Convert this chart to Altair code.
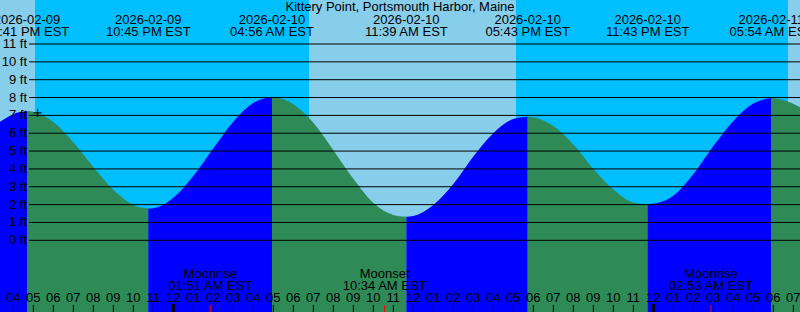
import altair as alt
import pandas as pd

STATION = "Kittery Point, Portsmouth Harbor, Maine"
START = "2026-02-09 15:20"
END = "2026-02-11 07:20"

# Tide height samples (local time, feet)
curve_time = [
    "2026-02-09 15:20", "2026-02-09 16:00", "2026-02-09 17:00", "2026-02-09 18:00",
    "2026-02-09 19:00", "2026-02-09 20:00", "2026-02-09 21:00", "2026-02-09 22:00",
    "2026-02-09 23:00", "2026-02-10 00:00", "2026-02-10 01:00", "2026-02-10 02:00",
    "2026-02-10 03:00", "2026-02-10 04:00", "2026-02-10 05:00", "2026-02-10 06:00",
    "2026-02-10 07:00", "2026-02-10 08:00", "2026-02-10 09:00", "2026-02-10 10:00",
    "2026-02-10 11:00", "2026-02-10 12:00", "2026-02-10 13:00", "2026-02-10 14:00",
    "2026-02-10 15:00", "2026-02-10 16:00", "2026-02-10 17:00", "2026-02-10 18:00",
    "2026-02-10 19:00", "2026-02-10 20:00", "2026-02-10 21:00", "2026-02-10 22:00",
    "2026-02-10 23:00", "2026-02-11 00:00", "2026-02-11 01:00", "2026-02-11 02:00",
    "2026-02-11 03:00", "2026-02-11 04:00", "2026-02-11 05:00", "2026-02-11 06:00",
    "2026-02-11 07:00", "2026-02-11 07:20",
]
curve_ft = [
    6.64, 7.07, 7.20, 6.63,
    5.50, 4.11, 2.83, 1.98,
    1.80, 2.39, 3.61, 5.16,
    6.65, 7.69, 8.03, 7.63,
    6.59, 5.05, 3.45, 2.10,
    1.42, 1.36, 1.98, 3.15,
    4.70, 6.00, 6.80, 6.90,
    6.40, 5.37, 4.00, 2.85,
    2.12, 2.05, 2.50, 3.70,
    5.28, 6.69, 7.66, 7.96,
    7.65, 7.45,
]

# High / low tide events
event_time = ["2026-02-09 16:41", "2026-02-09 22:45", "2026-02-10 04:56",
              "2026-02-10 11:39", "2026-02-10 17:43", "2026-02-10 23:43",
              "2026-02-11 05:54"]
event_ft = [7.24, 1.78, 8.04, 1.32, 6.93, 2.02, 7.97]
event_kind = ["high", "low", "high", "low", "high", "low", "high"]

# Sun events
sun_time = ["2026-02-09 17:05", "2026-02-10 06:47", "2026-02-10 17:08", "2026-02-11 06:44"]
sun_kind = ["sunset", "sunrise", "sunset", "sunrise"]

# Moon events
moon_time = ["2026-02-10 01:51", "2026-02-10 10:34", "2026-02-11 02:53"]
moon_kind = ["Moonrise", "Moonset", "Moonrise"]

# current-time marker
now_time = ["2026-02-09 17:13"]
now_ft = [7.14]

ft_levels = list(range(0, 12))

# ---------------------------------------------------------------------------
REF = pd.Timestamp("2026-02-10 00:00")


def hrs(s):
    return (pd.Timestamp(s) - REF) / pd.Timedelta(hours=1)


SKY = "#87CEEB"
NIGHT = "#00BFFF"
RISE = "#0000FF"
FALL = "#2E8B57"
FONT = "Liberation Sans"
FS = 13

YMIN, YMAX = -4.018, 13.466
xscale = alt.Scale(domain=[hrs(START), hrs(END)], nice=False, zero=False)
yscale = alt.Scale(domain=[YMIN, YMAX], nice=False, zero=False)

# day/night bands
edges = [hrs(START)] + [hrs(t) for t in sun_time] + [hrs(END)]
band_kind = [("day" if k == "sunset" else "night") for k in sun_kind]
band_kind.append("day" if sun_kind[-1] == "sunrise" else "night")
bands = pd.DataFrame({"h0": edges[:-1], "h1": edges[1:], "kind": band_kind})
bands["col"] = bands["kind"].map({"day": SKY, "night": NIGHT})

# tide area segments
cv = pd.DataFrame({"h": [hrs(t) for t in curve_time], "ft": curve_ft})
ev = pd.DataFrame({"h": [hrs(t) for t in event_time], "ft": event_ft, "kind": event_kind})
bounds = [-1e9] + list(ev["h"]) + [1e9]
segs = []
n = len(ev)
for k in range(len(bounds) - 1):
    lo, hi = bounds[k], bounds[k + 1]
    parts = [ev[ev["h"] == lo][["h", "ft"]], cv[(cv["h"] > lo) & (cv["h"] < hi)], ev[ev["h"] == hi][["h", "ft"]]]
    seg = pd.concat(parts).sort_values("h").copy()
    if k < n:
        rising = ev["kind"].iloc[k] == "high"
    else:
        rising = ev["kind"].iloc[n - 1] == "low"
    seg["seg"] = k
    seg["col"] = RISE if rising else FALL
    segs.append(seg)
area_df = pd.concat(segs, ignore_index=True)
area_df["base"] = YMIN

# event labels
ts = [pd.Timestamp(t) for t in event_time]
ev["date"] = [t.strftime("%Y-%m-%d") for t in ts]
ev["clock"] = [t.strftime("%I:%M %p EST") for t in ts]

# moon
mts = [pd.Timestamp(t) for t in moon_time]
moon_df = pd.DataFrame({"h": [hrs(t) for t in moon_time], "kind": moon_kind,
                        "clock": [t.strftime("%I:%M %p EST") for t in mts]})

# hours
hour_stamps = pd.date_range(pd.Timestamp(START).ceil("h"), pd.Timestamp(END), freq="h")
hour_df = pd.DataFrame({"h": [hrs(t) for t in hour_stamps],
                        "lab": [t.strftime("%I") for t in hour_stamps],
                        "mid": [t.hour == 0 for t in hour_stamps]})

grid_df = pd.DataFrame({"ft": ft_levels, "lab": [f"{v} ft" for v in ft_levels]})
now_df = pd.DataFrame({"h": [hrs(t) for t in now_time], "ft": now_ft})

X = lambda f="h": alt.X(f"{f}:Q", scale=xscale, axis=None)
Y = lambda f="ft": alt.Y(f"{f}:Q", scale=yscale, axis=None)

bg = alt.Chart(bands).mark_rect().encode(
    x=X("h0"), x2="h1", y=alt.value(0), y2=alt.value(312),
    color=alt.Color("col:N", scale=None))

area = alt.Chart(area_df).mark_area(interpolate="monotone").encode(
    x=X(), y=Y(), y2="base", color=alt.Color("col:N", scale=None), detail="seg:N")

grid = alt.Chart(grid_df).mark_rule(color="black", strokeWidth=1).encode(
    y=Y(), x=alt.value(29), x2=alt.value(800))

ylab = alt.Chart(grid_df).mark_text(align="right", baseline="middle", font=FONT, fontSize=FS,
                                    color="black").encode(y=Y(), x=alt.value(27), text="lab:N")

title = alt.Chart(pd.DataFrame({"t": [STATION]})).mark_text(
    font=FONT, fontSize=FS, color="black", baseline="alphabetic", align="center").encode(
    x=alt.value(400), y=alt.value(11), text="t:N")

ev_date = alt.Chart(ev).mark_text(font=FONT, fontSize=FS, color="black", baseline="alphabetic").encode(
    x=X(), y=alt.value(24), text="date:N")
ev_clock = alt.Chart(ev).mark_text(font=FONT, fontSize=FS, color="black", baseline="alphabetic").encode(
    x=X(), y=alt.value(36), text="clock:N")

hticks = alt.Chart(hour_df[~hour_df["mid"]]).mark_rule(color="black", strokeWidth=1).encode(
    x=X(), y=alt.value(305), y2=alt.value(312))
mticks = alt.Chart(hour_df[hour_df["mid"]]).mark_rule(color="black", strokeWidth=3).encode(
    x=X(), y=alt.value(304), y2=alt.value(312))
hlabs = alt.Chart(hour_df).mark_text(font=FONT, fontSize=FS, color="black", baseline="alphabetic").encode(
    x=X(), y=alt.value(302), text="lab:N")

moon_ticks = alt.Chart(moon_df).mark_rule(color="red", strokeWidth=1).encode(
    x=X(), y=alt.value(305), y2=alt.value(312))
moon_lab1 = alt.Chart(moon_df).mark_text(font=FONT, fontSize=FS, color="black", baseline="alphabetic").encode(
    x=X(), y=alt.value(278), text="kind:N")
moon_lab2 = alt.Chart(moon_df).mark_text(font=FONT, fontSize=FS, color="black", baseline="alphabetic").encode(
    x=X(), y=alt.value(290), text="clock:N")

now_mark = alt.Chart(now_df).mark_point(shape="M-1,0H1M0,-1V1", filled=False, stroke="black",
                                        strokeWidth=1, size=64, opacity=1).encode(x=X(), y=Y())

chart = alt.layer(
    bg, area, grid, ylab, title, ev_date, ev_clock, hticks, mticks, hlabs,
    moon_ticks, moon_lab1, moon_lab2, now_mark
).properties(
    width=800, height=312,
    autosize=alt.AutoSizeParams(type="none"),
    padding=0,
    background=NIGHT,
).configure_view(stroke="transparent", strokeWidth=0)

chart.save("out.html", embed_options={"renderer": "svg", "actions": False})
